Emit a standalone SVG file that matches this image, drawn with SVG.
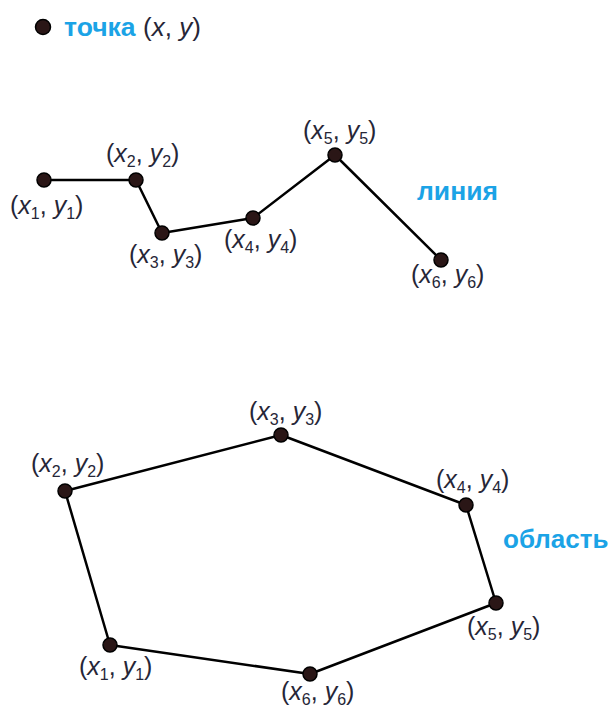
<svg xmlns="http://www.w3.org/2000/svg" width="611" height="708" viewBox="0 0 611 708">
<style>
.lbl{font-family:"Liberation Sans",Arial,sans-serif;font-size:25px;fill:#262637}
.v{font-style:italic}
.s{font-size:16px}
.ttl{font-family:"Liberation Sans",Arial,sans-serif;font-size:26.5px;font-weight:bold;fill:#1ba3e6}
.dot{fill:#2a1616;stroke:#000;stroke-width:1.5}
.edge{stroke:#000;stroke-width:2.5;fill:none;stroke-linejoin:round}
</style>
<rect width="611" height="708" fill="#fff"/>
<g id="legend">
<circle class="dot" cx="43" cy="27" r="7.5"/>
<text x="64" y="36" class="ttl">точка</text>
<text x="143" y="36" class="lbl" style="font-size:26px">(<tspan class="v">x</tspan>, <tspan class="v">y</tspan>)</text>
</g>
<g id="connectors">
<polyline class="edge" points="44,180 136,180 162,233 253,218 335,155 441,260"/>
<polygon class="edge" points="110,645 65,491 281,435 466,505 496,603 310,674"/>
</g>
<g id="line-title"><text x="417" y="200" class="ttl">линия</text></g>
<g id="L1"><circle class="dot" cx="44" cy="180" r="7"/><text x="10" y="214" class="lbl">(<tspan class="v">x</tspan><tspan class="s" dy="5">1</tspan><tspan dy="-5">, </tspan><tspan class="v">y</tspan><tspan class="s" dy="5">1</tspan><tspan dy="-5">)</tspan></text></g>
<g id="L2"><circle class="dot" cx="136" cy="180" r="7"/><text x="106" y="162" class="lbl">(<tspan class="v">x</tspan><tspan class="s" dy="5">2</tspan><tspan dy="-5">, </tspan><tspan class="v">y</tspan><tspan class="s" dy="5">2</tspan><tspan dy="-5">)</tspan></text></g>
<g id="L3"><circle class="dot" cx="162" cy="233" r="7"/><text x="129" y="263" class="lbl">(<tspan class="v">x</tspan><tspan class="s" dy="5">3</tspan><tspan dy="-5">, </tspan><tspan class="v">y</tspan><tspan class="s" dy="5">3</tspan><tspan dy="-5">)</tspan></text></g>
<g id="L4"><circle class="dot" cx="253" cy="218" r="7"/><text x="224" y="248" class="lbl">(<tspan class="v">x</tspan><tspan class="s" dy="5">4</tspan><tspan dy="-5">, </tspan><tspan class="v">y</tspan><tspan class="s" dy="5">4</tspan><tspan dy="-5">)</tspan></text></g>
<g id="L5"><circle class="dot" cx="335" cy="155" r="7"/><text x="303" y="139" class="lbl">(<tspan class="v">x</tspan><tspan class="s" dy="5">5</tspan><tspan dy="-5">, </tspan><tspan class="v">y</tspan><tspan class="s" dy="5">5</tspan><tspan dy="-5">)</tspan></text></g>
<g id="L6"><circle class="dot" cx="441" cy="260" r="7"/><text x="411" y="283" class="lbl">(<tspan class="v">x</tspan><tspan class="s" dy="5">6</tspan><tspan dy="-5">, </tspan><tspan class="v">y</tspan><tspan class="s" dy="5">6</tspan><tspan dy="-5">)</tspan></text></g>
<g id="area-title"><text x="503" y="548" class="ttl" style="font-size:26px">область</text></g>
<g id="A1"><circle class="dot" cx="110" cy="645" r="7"/><text x="79" y="675" class="lbl">(<tspan class="v">x</tspan><tspan class="s" dy="5">1</tspan><tspan dy="-5">, </tspan><tspan class="v">y</tspan><tspan class="s" dy="5">1</tspan><tspan dy="-5">)</tspan></text></g>
<g id="A2"><circle class="dot" cx="65" cy="491" r="7"/><text x="31" y="472" class="lbl">(<tspan class="v">x</tspan><tspan class="s" dy="5">2</tspan><tspan dy="-5">, </tspan><tspan class="v">y</tspan><tspan class="s" dy="5">2</tspan><tspan dy="-5">)</tspan></text></g>
<g id="A3"><circle class="dot" cx="281" cy="435" r="7"/><text x="249" y="420" class="lbl">(<tspan class="v">x</tspan><tspan class="s" dy="5">3</tspan><tspan dy="-5">, </tspan><tspan class="v">y</tspan><tspan class="s" dy="5">3</tspan><tspan dy="-5">)</tspan></text></g>
<g id="A4"><circle class="dot" cx="466" cy="505" r="7"/><text x="436" y="488" class="lbl">(<tspan class="v">x</tspan><tspan class="s" dy="5">4</tspan><tspan dy="-5">, </tspan><tspan class="v">y</tspan><tspan class="s" dy="5">4</tspan><tspan dy="-5">)</tspan></text></g>
<g id="A5"><circle class="dot" cx="496" cy="603" r="7"/><text x="467" y="635" class="lbl">(<tspan class="v">x</tspan><tspan class="s" dy="5">5</tspan><tspan dy="-5">, </tspan><tspan class="v">y</tspan><tspan class="s" dy="5">5</tspan><tspan dy="-5">)</tspan></text></g>
<g id="A6"><circle class="dot" cx="310" cy="674" r="7"/><text x="281" y="700" class="lbl">(<tspan class="v">x</tspan><tspan class="s" dy="5">6</tspan><tspan dy="-5">, </tspan><tspan class="v">y</tspan><tspan class="s" dy="5">6</tspan><tspan dy="-5">)</tspan></text></g>
</svg>
